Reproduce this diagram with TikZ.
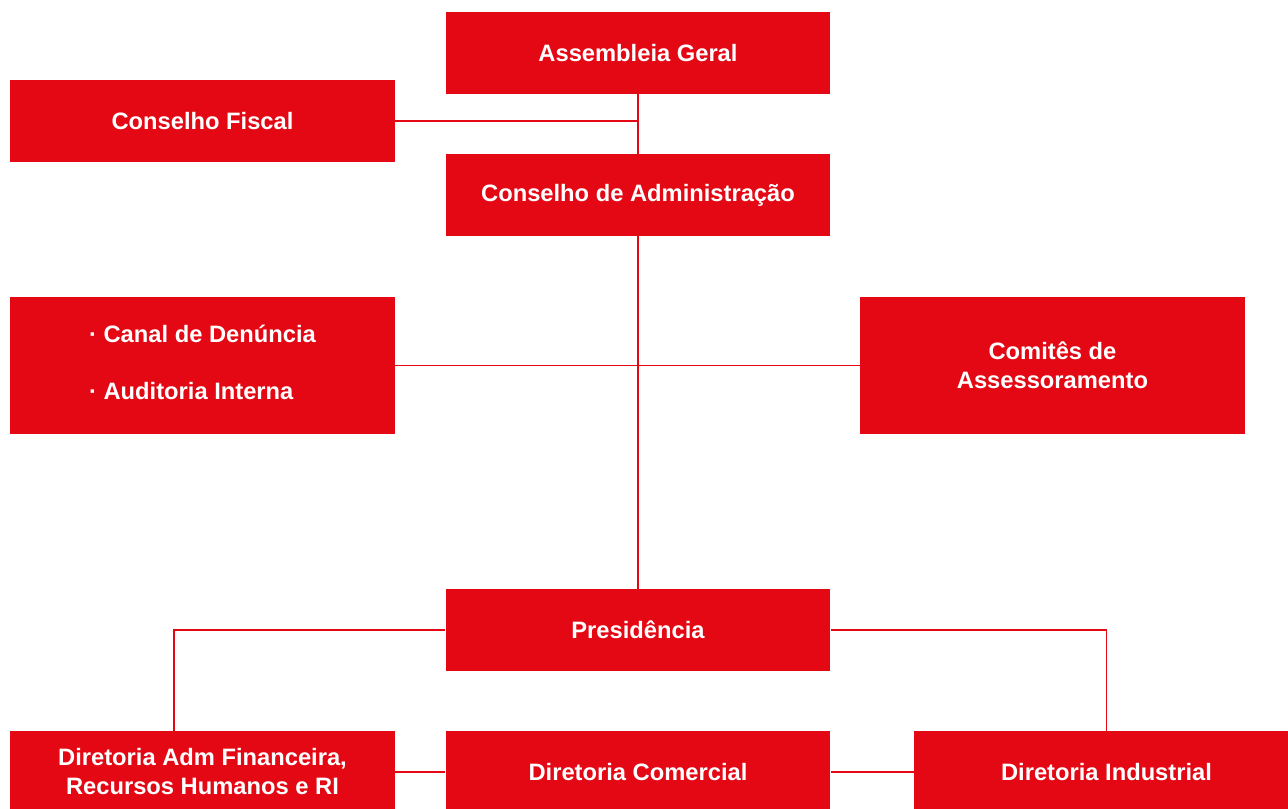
\documentclass[tikz,border=0pt]{standalone}
\usepackage{fontspec}
\setmainfont{Liberation Sans}
\definecolor{orgred}{RGB}{227,8,20}

\begin{document}
\begin{tikzpicture}
  [x=0.02cm,y=-0.02cm,
   box/.style={rectangle,fill=orgred,text=white,inner sep=0pt,align=center,
     minimum width=7.7cm,minimum height=1.64cm,
     font=\bfseries\fontsize{13.5}{16.5}\selectfont},
   link/.style={draw=orgred,line width=0.9pt}]

  \useasboundingbox (0,0) rectangle (1288,808);
  \clip (0,0) rectangle (1288,808);

  \node[box] (n1) at (638,53)  {Assembleia Geral};
  \node[box] (n2) at (202.5,121) {Conselho Fiscal};
  \node[box] (n3) at (638,195) {Conselho de Administração};
  \node[box,minimum height=2.74cm,align=left] (n4) at (202.5,365.5)
    {· Canal de Denúncia\\[16pt]· Auditoria Interna\\[-12.5pt]};
  \node[box,minimum height=2.74cm] (n5) at (1052.5,365.5) {Comitês de\\Assessoramento};
  \node[box] (n6) at (638,630) {Presidência};
  \node[box] (n7) at (202.5,772) {Diretoria Adm Financeira,\\Recursos Humanos e RI};
  \node[box] (n8) at (638,772) {Diretoria Comercial};
  \node[box] (n9) at (1106.5,772) {Diretoria Industrial};
  \coordinate (c1) at (174,630);

  \draw[link] (n2.east) -- (n2.east -| n1.south);
  \draw[link] (n6.west) -- (c1) -- (c1 |- n7.north);
  \draw[link] (n6.east) -| (n9.north);
  \foreach \from/\to in {n1/n3,n3/n6,n4/n5,n7/n8,n8/n9}
    \draw[link] (\from) -- (\to);
\end{tikzpicture}
\end{document}
